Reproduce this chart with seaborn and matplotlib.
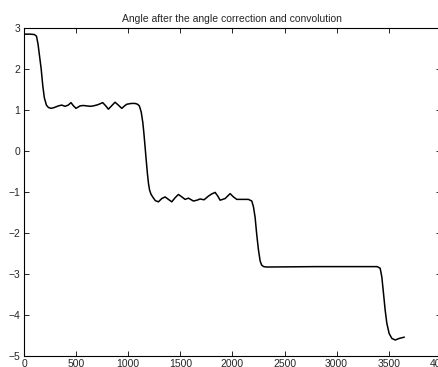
import matplotlib
matplotlib.use("Agg")
import matplotlib.pyplot as plt
import seaborn as sns
import pandas as pd

sample_index = [0, 60, 100, 120, 135, 150, 165, 180, 195, 215, 235, 260, 290, 330, 362, 394, 425, 451,
                475, 499, 538, 570, 602, 635, 666, 710, 755, 785, 810, 840, 874, 905, 938, 965, 986,
                1030, 1066, 1090, 1107, 1125, 1140, 1150, 1162, 1172, 1184, 1195, 1205, 1218, 1235,
                1260, 1290, 1322, 1354, 1386, 1418, 1450, 1482, 1515, 1546, 1578, 1626, 1660, 1690,
                1728, 1770, 1800, 1834, 1860, 1882, 1930, 1978, 2010, 2042, 2106, 2154, 2186, 2202,
                2218, 2234, 2250, 2266, 2280, 2300, 2330, 2800, 3390, 3418, 3434, 3450, 3466, 3482,
                3504, 3530, 3562, 3603, 3650]
angle = [2.85, 2.85, 2.84, 2.80, 2.60, 2.30, 2.00, 1.60, 1.30, 1.12, 1.06, 1.04, 1.06, 1.10, 1.12, 1.09,
         1.12, 1.18, 1.10, 1.04, 1.10, 1.11, 1.10, 1.09, 1.10, 1.13, 1.18, 1.10, 1.02, 1.10, 1.19,
         1.12, 1.04, 1.10, 1.14, 1.16, 1.16, 1.14, 1.10, 0.95, 0.70, 0.45, 0.10, -0.20, -0.54, -0.80,
         -0.95, -1.05, -1.12, -1.21, -1.24, -1.16, -1.12, -1.18, -1.24, -1.14, -1.06, -1.12, -1.18,
         -1.15, -1.22, -1.20, -1.17, -1.19, -1.10, -1.05, -1.01, -1.10, -1.20, -1.16, -1.04, -1.12,
         -1.18, -1.18, -1.18, -1.22, -1.36, -1.62, -2.05, -2.41, -2.68, -2.78, -2.82, -2.83, -2.82,
         -2.82, -2.86, -3.07, -3.47, -3.88, -4.20, -4.45, -4.57, -4.61, -4.57, -4.54]

x_ticks = [0, 500, 1000, 1500, 2000, 2500, 3000, 3500, 4000]
y_ticks = [-5, -4, -3, -2, -1, 0, 1, 2, 3]
title = "Angle after the angle correction and convolution"

sns.set_style("ticks")
plt.rcParams["font.family"] = ["Liberation Sans", "DejaVu Sans"]
plt.rcParams["axes.unicode_minus"] = True

df = pd.DataFrame({"x": sample_index, "y": angle})

fig = plt.figure(figsize=(4.38, 3.67), dpi=100)
ax = fig.add_axes([24 / 438, 11 / 367, 416.8 / 438, 328 / 367])
sns.lineplot(data=df, x="x", y="y", sort=False, color="black", linewidth=1.1, ax=ax)

ax.set_xlim(0, 4000)
ax.set_ylim(-5, 3)
ax.set_xticks(x_ticks)
ax.set_yticks(y_ticks)
ax.set_xticklabels([str(v) for v in x_ticks])
ax.set_yticklabels([str(v).replace("-", "\u2212") for v in y_ticks])
ax.set_xlabel("")
ax.set_ylabel("")
ax.set_title(title, fontsize=7.5, pad=4)
ax.tick_params(direction="in", length=3.5, width=0.6, labelsize=7.5, top=True, right=True,
               pad=2.5, color="black")
for s in ax.spines.values():
    s.set_linewidth(0.8)
    s.set_color("black")
    s.set_visible(True)

fig.savefig("out.png", dpi=100)
